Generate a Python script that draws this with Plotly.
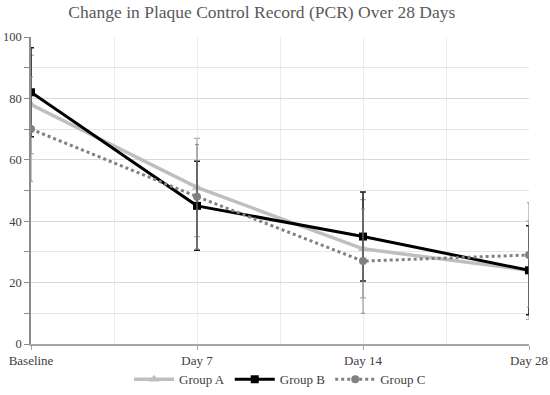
import plotly.graph_objects as go

categories = ["Baseline", "Day 7", "Day 14", "Day 28"]
group_a = [78, 51, 31, 24]
group_b = [82, 45, 35, 24]
group_c = [70, 48, 27, 29]
err_a = [16, 16, 16, 16]
err_b = [14.5, 14.5, 14.5, 14.5]
err_c = [17, 17, 17, 17]
y_ticks = [0, 20, 40, 60, 80, 100]

xpos = list(range(len(categories)))
serif = "Liberation Serif"

fig = go.Figure()

fig.add_trace(go.Scatter(
    x=xpos, y=group_a, name="Group A", mode="lines+markers",
    line=dict(color="#bfbfbf", width=3.5),
    marker=dict(symbol="triangle-up", size=9, color="#bfbfbf"),
    error_y=dict(type="data", array=err_a, color="#b0b0b0", thickness=1.2, width=3),
))
fig.add_trace(go.Scatter(
    x=xpos, y=group_b, name="Group B", mode="lines+markers",
    line=dict(color="#000000", width=3),
    marker=dict(symbol="square", size=8, color="#000000"),
    error_y=dict(type="data", array=err_b, color="#1a1a1a", thickness=1.5, width=3),
))
fig.add_trace(go.Scatter(
    x=xpos, y=group_c, name="Group C", mode="lines+markers",
    line=dict(color="#808080", width=3, dash="dot"),
    marker=dict(symbol="circle", size=8, color="#808080"),
    error_y=dict(type="data", array=err_c, color="#8c8c8c", thickness=1, width=2),
))

fig.update_layout(
    width=550, height=395,
    margin=dict(l=31, r=21, t=37, b=51, autoexpand=False),
    paper_bgcolor="white", plot_bgcolor="white",
    title=dict(text="Change in Plaque Control Record (PCR) Over 28 Days",
               x=0.476, xanchor="center", y=0.97, yanchor="middle",
               font=dict(family=serif, size=17.5, color="#595959")),
    font=dict(family=serif, size=12.5, color="#404040"),
    showlegend=True,
    legend=dict(orientation="h", x=0.5, xanchor="center", y=-0.115, yanchor="middle",
                bgcolor="rgba(0,0,0,0)",
                font=dict(family=serif, size=13, color="#404040"),
                itemwidth=40, tracegroupgap=0),
)

fig.update_xaxes(
    range=[0, 3], tickmode="array", tickvals=xpos, ticktext=categories,
    automargin=False,
    showline=True, linecolor="#a6a6a6", linewidth=1.5,
    ticks="outside", ticklen=4, tickcolor="#a6a6a6",
    showgrid=True, gridcolor="#ececec", gridwidth=1,
    minor=dict(tickmode="linear", dtick=0.5, showgrid=True, gridcolor="#ececec"),
    tickfont=dict(family=serif, size=13, color="#404040"),
    zeroline=False, fixedrange=True,
)
fig.update_yaxes(
    range=[0, 100], tickmode="array", tickvals=y_ticks,
    automargin=False,
    showline=True, linecolor="#8c8c8c", linewidth=1.5,
    ticks="outside", ticklen=5, tickcolor="#8c8c8c",
    showgrid=True, gridcolor="#d9d9d9", gridwidth=1,
    minor=dict(tickmode="linear", dtick=10, ticks="outside", ticklen=5,
               tickcolor="#8c8c8c", showgrid=True, gridcolor="#e6e6e6"),
    tickfont=dict(family=serif, size=12.5, color="#404040"),
    zeroline=False,
)

fig.write_html("out.html", config={"displayModeBar": False},
               post_script="document.body.style.margin='0';")
